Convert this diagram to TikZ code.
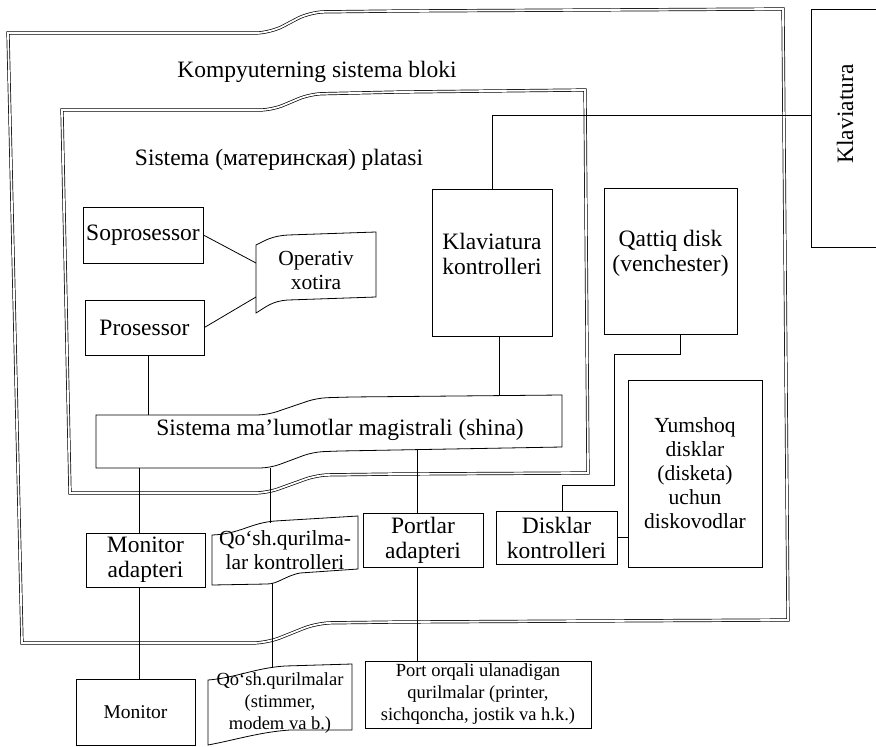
\documentclass[tikz,border=0pt]{standalone}
\usepackage{fontspec}
\setmainfont{Liberation Serif}
\usetikzlibrary{calc}
\newcommand\bigf{\fontsize{23.5}{25}\selectfont}
\newcommand\midf{\fontsize{21.5}{24}\selectfont}
\newcommand\smallf{\fontsize{18.5}{22}\selectfont}
\begin{document}
\begin{tikzpicture}[x=1pt,y=-1pt,
  frame/.style={draw, line width=0.7pt, double, double distance=1.8pt, line join=miter},
  box/.style={draw, line width=0.8pt, inner sep=0pt, align=center, font=\bigf},
  sbox/.style={draw, line width=0.8pt, inner sep=0pt, align=center, font=\smallf},
  lbl/.style={inner sep=0pt, align=center, font=\bigf},
  mlbl/.style={inner sep=0pt, align=center, font=\midf},
  slbl/.style={inner sep=0pt, align=center, font=\smallf},
  wire/.style={draw, line width=0.8pt}]
\fill[white] (0,0) rectangle (876,747);
\useasboundingbox (0,0) rectangle (876,747);

% outer frame (system block)
\draw[frame] (8,33) -- (230,33) [rounded corners=14pt] -- (270,33) -- (310,12) -- (400,11) [sharp corners] -- (783,9) -- (788,620) -- (400,622) [rounded corners=14pt] -- (317,623) -- (267,643) -- (200,643) [sharp corners] -- (22,643) -- cycle;
% inner frame (motherboard)
\draw[frame] (62,110) -- (230,110) [rounded corners=12pt] -- (272,110) -- (310,94) -- (400,92) [sharp corners] -- (585,90) -- (588,473) -- (400,474) [rounded corners=12pt] -- (317,475) -- (267,493) -- (200,493) [sharp corners] -- (70,493) -- cycle;

\node[lbl] (sbl) at (317,72) {Kompyuterning sistema bloki};
\node[lbl] (mpl) at (279,160) {Sistema (материнская) platasi};

% keyboard (outside)
\begin{scope}
\clip (0,0) rectangle (876,747);
\node[box, minimum width=80pt, minimum height=238pt, anchor=north west] (klav) at (811,9) {};
\end{scope}
\node[lbl, rotate=90] (klavt) at (845,114) {Klaviatura};
\coordinate (kp) at (811,115);

% boxes
\node[box, minimum width=120pt, minimum height=56pt] (sop) at (143,235) {Soprosessor};
\node[box, minimum width=119pt, minimum height=55pt] (pro) at (144.5,327.5) {Prosessor};
\node[box, minimum width=120pt, minimum height=147pt] (klk) at (492,262.5) {};
\node[lbl] (klkt) at (492,254) {Klaviatura\\kontrolleri};
\node[box, minimum width=133pt, minimum height=146pt] (qd) at (670.5,261) {};
\node[lbl] (qdt) at (670.5,253) {Qattiq disk\\(venchester)};
\node[box, font=\midf, minimum width=134pt, minimum height=187pt] (yum) at (695,473.5) {Yumshoq\\disklar\\(disketa)\\uchun\\diskovodlar};
\node[box, minimum width=121pt, minimum height=53pt] (dk) at (556.5,537.5) {Disklar\\kontrolleri};
\node[box, minimum width=119pt, minimum height=54pt] (ma) at (145.5,560) {Monitor\\adapteri};
\node[box, minimum width=120pt, minimum height=54pt] (pa) at (423,540) {Portlar\\adapteri};
\node[sbox, font=\fontsize{19.5}{22}\selectfont, minimum width=119pt, minimum height=66pt] (mon) at (135.5,712) {Monitor};
\node[sbox, minimum width=226pt, minimum height=67pt] (po) at (478,694.5) {Port orqali ulanadigan\\qurilmalar (printer,\\sichqoncha, jostik va h.k.)};

% operativ xotira (wavy box)
\draw[wire] (256,313) -- (256,245) .. controls (266,240) and (272,236) .. (288,235) -- (376,232) -- (376,297) -- (288,300) .. controls (272,301) and (266,307) .. (256,313) -- cycle;
\node[mlbl] (opt) at (316,270) {Operativ\\xotira};
\coordinate (opA) at (256,263);
\coordinate (opB) at (256,297);

% bus
\draw[wire] (96,468) -- (96,415) -- (240,415) [rounded corners=10pt] -- (267,415) -- (317,398) -- (350,397) [sharp corners] -- (562,395) -- (562,447) -- (340,451) [rounded corners=10pt] -- (313,452) -- (270,468) -- (240,468) [sharp corners] -- cycle;
\node[lbl] (bust) at (340,430) {Sistema ma’lumotlar magistrali (shina)};
\coordinate (bT1) at (148,415);
\coordinate (bT2) at (499,396);
\coordinate (bB1) at (139,468);
\coordinate (bB2) at (270,468);
\coordinate (bB3) at (417,450);

% Qo'sh. qurilmalar kontrolleri (wavy box)
\draw[wire] (212,585) -- (212,535) .. controls (240,534) and (250,523) .. (275,521) -- (358,516) -- (358,569) -- (300,573) .. controls (285,576) and (278,584) .. (267,584) -- cycle;
\node[mlbl] (qkt) at (285,550) {Qo‘sh.qurilma-\\lar kontrolleri};
\coordinate (qkT) at (270,523);
\coordinate (qkB) at (272,583);

% Qo'sh. qurilmalar (wavy box)
\draw[wire] (208,745) -- (208,680) .. controls (235,678) and (255,668) .. (285,666) -- (352,664) -- (352,730) -- (290,730) .. controls (260,732) and (235,740) .. (208,745) -- cycle;
\node[slbl] (qqt) at (280,703) {Qo‘sh.qurilmalar\\(stimmer,\\modem va b.)};
\coordinate (qqT) at (272,668);

% connectors
\draw[wire] (sop.east) -- (opA);
\draw[wire] (pro.east) -- (opB);
\draw[wire] ([xshift=3.5pt]pro.south) -- (bT1);
\draw[wire] ([xshift=7pt]klk.south) -- (bT2);
\draw[wire] (klk.north) |- (kp);
\draw[wire] (bB1) -- ([xshift=-6.5pt]ma.north);
\draw[wire] ([xshift=-6.5pt]ma.south) -- ([xshift=3.5pt]mon.north);
\draw[wire] (bB2) -- (qkT);
\draw[wire] (qkB) -- (qqT);
\draw[wire] (bB3) -- ([xshift=-6pt]pa.north);
\draw[wire] ([xshift=-6pt]pa.south) -- ([xshift=-61pt]po.north);
\coordinate (h1) at (614,354);
\coordinate (h2) at (562,485);
\draw[wire] ([xshift=9.5pt]qd.south) |- (h1) |- (h2) -- ([xshift=5.5pt]dk.north);
\draw[wire] (dk.east) -- (dk.east -| yum.west);
\end{tikzpicture}
\end{document}
